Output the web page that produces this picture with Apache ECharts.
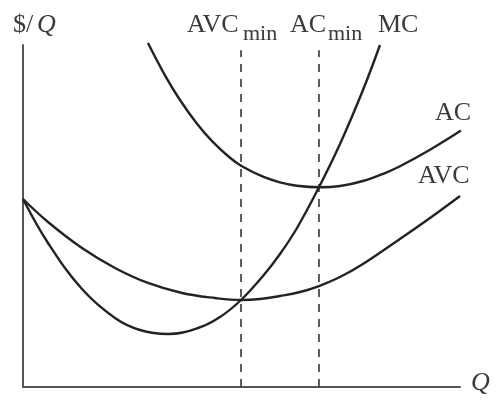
<!DOCTYPE html>
<html>
<head>
<meta charset="utf-8">
<script src="https://cdn.jsdelivr.net/npm/echarts@6/dist/echarts.min.js"></script>
<style>html,body{margin:0;padding:0;background:#fff}#c{width:502px;height:400px}</style>
</head>
<body>
<div id="c"></div>
<script>
// Quantity (0-100) and $/Q (0-100)
const avcQ    = [0, 5.72, 13.50, 21.05, 28.60, 36.38, 43.94, 49.89, 54.23, 58.81, 63.39, 67.73, 72.54, 77.80, 85.58, 93.14, 100];
const avcCost = [54.97, 48.25, 40.64, 34.80, 30.41, 27.49, 26.02, 25.44, 25.73, 26.61, 27.78, 29.53, 32.16, 35.96, 42.69, 49.42, 55.85];

const mcQ    = [0, 5.72, 13.50, 21.05, 26.77, 33.18, 40.05, 45.08, 49.89, 54.92, 58.81, 62.70, 67.73, 72.54, 77.80, 81.69];
const mcCost = [54.97, 42.11, 28.65, 20.18, 16.67, 15.50, 17.25, 20.47, 25.44, 32.46, 38.89, 46.49, 58.42, 71.05, 86.84, 100.0];

const acQ    = [28.60, 32.49, 35.93, 39.82, 43.48, 47.37, 49.89, 54.92, 58.81, 62.70, 67.73, 72.54, 77.80, 82.84, 86.27, 93.14, 100.23];
const acCost = [100.58, 91.14, 83.92, 76.96, 71.58, 67.02, 64.71, 61.49, 59.85, 58.86, 58.42, 58.77, 60.23, 62.57, 64.53, 69.36, 74.97];

const minQ = [49.89, 67.73];        // AVCmin, ACmin
const dashTop = 98.5;

const curveNames = ['AVC', 'MC', 'AC'];
const minLabels = ['AVC', 'AC'];
const subText = 'min';
const axisNames = ['$/', 'Q'];

const zip = (a, b) => a.map((v, i) => [v, b[i]]);

const serif = '"Liberation Serif", "DejaVu Serif", serif';
const txt = '#3a3a3a';
const ink = '#232323';
const F = 26, FS = 22;

const chart = echarts.init(document.getElementById('c'), null, {renderer: 'canvas'});

const curve = (name, data) => ({
  name, type: 'line', data, smooth: 0.4, symbol: 'none', clip: false,
  lineStyle: {color: ink, width: 2.4}, z: 3
});
const dash = (q) => ({
  type: 'line', data: [[q, 0], [q, dashTop]], symbol: 'none', clip: false,
  lineStyle: {color: '#333', width: 1.6, type: [8, 7]}, z: 2
});
const label = (text, x, y, size, italic) => ({
  type: 'text', x, y,
  style: {text, font: (italic ? 'italic ' : '') + size + 'px ' + serif, fill: txt, verticalAlign: 'top'}
});

chart.setOption({
  animation: false,
  backgroundColor: '#fff',
  grid: {left: 23, top: 45, width: 437, height: 342},
  xAxis: {
    type: 'value', min: 0, max: 100,
    axisLine: {show: true, onZero: false, lineStyle: {color: '#555', width: 2}},
    axisTick: {show: false}, axisLabel: {show: false}, splitLine: {show: false}
  },
  yAxis: {
    type: 'value', min: 0, max: 100,
    axisLine: {show: true, onZero: false, lineStyle: {color: '#555', width: 2}},
    axisTick: {show: false}, axisLabel: {show: false}, splitLine: {show: false}
  },
  series: [
    curve(curveNames[0], zip(avcQ, avcCost)),
    curve(curveNames[1], zip(mcQ, mcCost)),
    curve(curveNames[2], zip(acQ, acCost)),
    dash(minQ[0]),
    dash(minQ[1])
  ],
  graphic: [
    label(axisNames[0], 13, 12, F, false),
    label(axisNames[1], 37, 12, F, true),
    label(minLabels[0], 187, 12, F, false),
    label(subText, 243, 23, FS, false),
    label(minLabels[1], 290, 12, F, false),
    label(subText, 328, 23, FS, false),
    label(curveNames[1], 378, 12, F, false),
    label(curveNames[2], 435, 100, F, false),
    label(curveNames[0], 418, 163, F, false),
    label(axisNames[1], 471, 370, F, true)
  ]
});
</script>
</body>
</html>
